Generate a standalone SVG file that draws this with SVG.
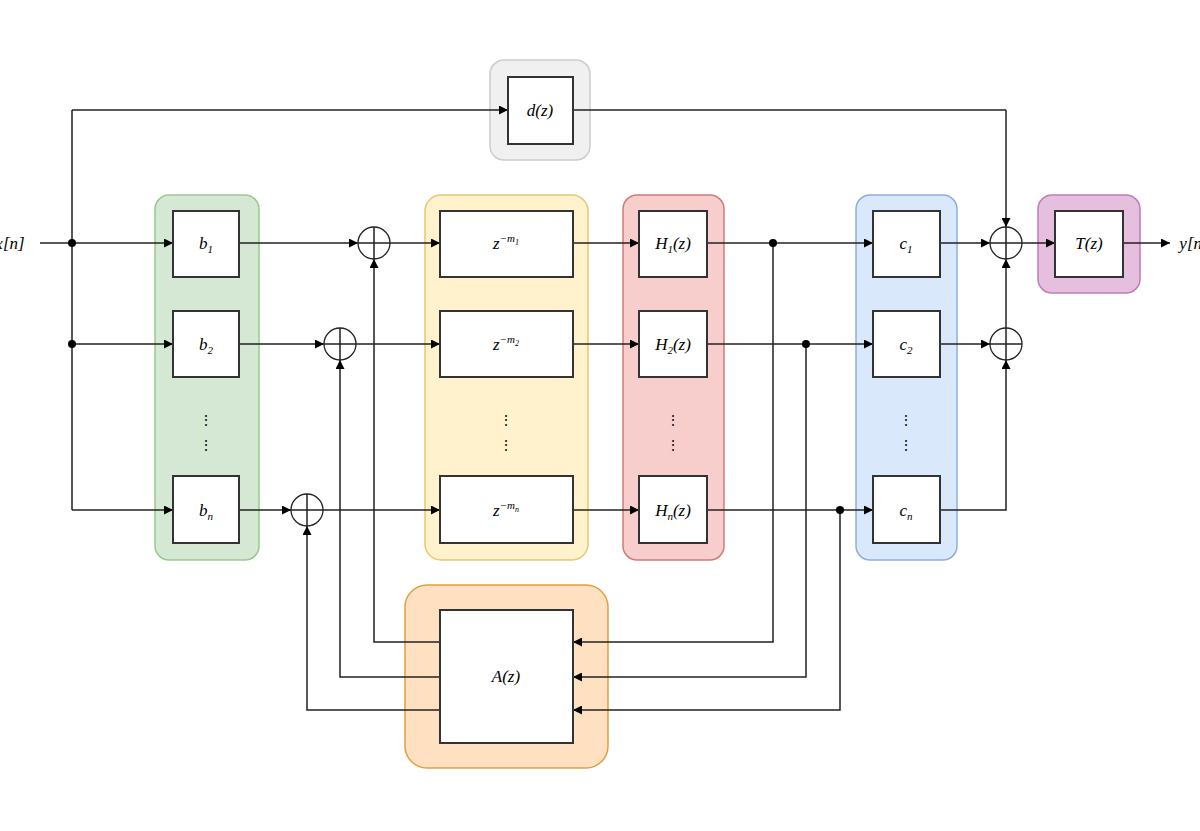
<svg xmlns="http://www.w3.org/2000/svg" width="1200" height="831" viewBox="0 0 1200 831">
<defs>
<marker id="ar" viewBox="0 0 10 10" refX="10" refY="5" markerWidth="9" markerHeight="9" orient="auto" markerUnits="userSpaceOnUse"><path d="M0,0L10,5L0,10z" fill="#000"/></marker>
<style>
.p{stroke-width:1.5}
.box{fill:#fff;stroke:#333;stroke-width:2}
.c{fill:none;stroke:#222;stroke-width:1.5;marker-end:url(#ar)}
.l{fill:none;stroke:#222;stroke-width:1.5}
.t{font-family:"Liberation Serif",serif;font-style:italic;font-size:17px;text-anchor:middle}
.s{font-size:11px}
.ss{font-size:8px}
.sum{fill:#fff;stroke:#222;stroke-width:1.3}
.dot{fill:#000}
.vd{font-family:"Liberation Serif",serif;font-size:14px;text-anchor:middle}
</style>
</defs>
<rect width="1200" height="831" fill="#fff"/>
<g id="panels">
<rect x="490" y="60" width="100" height="100" rx="14" fill="#f0f0f0" stroke="#cccccc" class="p"/>
<rect x="155" y="195" width="104" height="365" rx="14" fill="#d5e8d4" stroke="#9dc78f" class="p"/>
<rect x="425" y="195" width="163" height="365" rx="16" fill="#fff2cc" stroke="#e6c870" class="p"/>
<rect x="623" y="195" width="101" height="365" rx="14" fill="#f8cecc" stroke="#cf7b77" class="p"/>
<rect x="856" y="195" width="101" height="365" rx="14" fill="#dae8fc" stroke="#8eaee0" class="p"/>
<rect x="1038" y="195" width="102" height="98" rx="14" fill="#e6bfdf" stroke="#c07cb6" class="p"/>
<rect x="405" y="585" width="203" height="183" rx="22" fill="#ffe0c0" stroke="#e0a040" class="p"/>
</g>
<g id="connectors">
<path class="l" d="M40,243H72M72,110V510"/>
<path class="c" d="M72,110H508"/>
<path class="l" d="M573,110H1006"/>
<path class="c" d="M1006,110V227"/>
<path class="c" d="M72,243H173"/><path class="c" d="M72,344H173"/><path class="c" d="M72,510H173"/>
<path class="c" d="M239,243H358"/><path class="c" d="M239,344H324"/><path class="c" d="M239,510H291"/>
<path class="c" d="M390,243H440"/><path class="c" d="M356,344H440"/><path class="c" d="M323,510H440"/>
<path class="c" d="M573,243H639"/><path class="c" d="M573,344H639"/><path class="c" d="M573,510H639"/>
<path class="c" d="M707,243H873"/><path class="c" d="M707,344H873"/><path class="c" d="M707,510H873"/>
<path class="c" d="M940,243H990"/><path class="c" d="M940,344H990"/>
<path class="c" d="M940,510H1006V360"/>
<path class="c" d="M1006,328V259"/>
<path class="c" d="M1022,243H1055"/>
<path class="c" d="M1123,243H1170"/>
<path class="c" d="M773,243V642H573"/><path class="c" d="M806,344V677H573"/><path class="c" d="M840,510V710H573"/>
<path class="c" d="M440,642H374V259"/><path class="c" d="M440,677H340V360"/><path class="c" d="M440,710H307V526"/>
<circle class="dot" cx="72" cy="243" r="4"/><circle class="dot" cx="72" cy="344" r="4"/>
<circle class="dot" cx="773" cy="243" r="4"/><circle class="dot" cx="806" cy="344" r="4"/><circle class="dot" cx="840" cy="510" r="4"/>
</g>
<g id="sums">
<g id="s1"><circle class="sum" cx="374" cy="243" r="16"/><path class="l" d="M358,243H390M374,227V259"/></g>
<g id="s2"><circle class="sum" cx="340" cy="344" r="16"/><path class="l" d="M324,344H356M340,328V360"/></g>
<g id="s3"><circle class="sum" cx="307" cy="510" r="16"/><path class="l" d="M291,510H323M307,494V526"/></g>
<g id="s4"><circle class="sum" cx="1006" cy="243" r="16"/><path class="l" d="M990,243H1022M1006,227V259"/></g>
<g id="s5"><circle class="sum" cx="1006" cy="344" r="16"/><path class="l" d="M990,344H1022M1006,328V360"/></g>
</g>
<g id="d"><rect class="box" x="508" y="77" width="65" height="67"/><text class="t" x="540" y="116">d(z)</text></g>
<g id="b1"><rect class="box" x="173" y="211" width="66" height="66"/><text class="t" x="206" y="249">b<tspan class="s" dy="4">1</tspan></text></g>
<g id="b2"><rect class="box" x="173" y="311" width="66" height="66"/><text class="t" x="206" y="350">b<tspan class="s" dy="4">2</tspan></text></g>
<g id="bn"><rect class="box" x="173" y="476" width="66" height="67"/><text class="t" x="206" y="516">b<tspan class="s" dy="4">n</tspan></text></g>
<g id="z1"><rect class="box" x="440" y="211" width="133" height="66"/><text class="t" x="506" y="249">z<tspan class="s" dy="-7">−m</tspan><tspan class="ss" dy="3">1</tspan></text></g>
<g id="z2"><rect class="box" x="440" y="311" width="133" height="66"/><text class="t" x="506" y="350">z<tspan class="s" dy="-7">−m</tspan><tspan class="ss" dy="3">2</tspan></text></g>
<g id="zn"><rect class="box" x="440" y="476" width="133" height="67"/><text class="t" x="506" y="516">z<tspan class="s" dy="-7">−m</tspan><tspan class="ss" dy="3">n</tspan></text></g>
<g id="H1"><rect class="box" x="639" y="211" width="68" height="66"/><text class="t" x="673" y="249">H<tspan class="s" dy="4">1</tspan><tspan dy="-4">(z)</tspan></text></g>
<g id="H2"><rect class="box" x="639" y="311" width="68" height="66"/><text class="t" x="673" y="350">H<tspan class="s" dy="4">2</tspan><tspan dy="-4">(z)</tspan></text></g>
<g id="Hn"><rect class="box" x="639" y="476" width="68" height="67"/><text class="t" x="673" y="516">H<tspan class="s" dy="4">n</tspan><tspan dy="-4">(z)</tspan></text></g>
<g id="c1"><rect class="box" x="873" y="211" width="67" height="66"/><text class="t" x="906" y="249">c<tspan class="s" dy="4">1</tspan></text></g>
<g id="c2"><rect class="box" x="873" y="311" width="67" height="66"/><text class="t" x="906" y="350">c<tspan class="s" dy="4">2</tspan></text></g>
<g id="cn"><rect class="box" x="873" y="476" width="67" height="67"/><text class="t" x="906" y="516">c<tspan class="s" dy="4">n</tspan></text></g>
<g id="T"><rect class="box" x="1055" y="211" width="68" height="66"/><text class="t" x="1089" y="249">T(z)</text></g>
<g id="A"><rect class="box" x="440" y="610" width="133" height="133"/><text class="t" x="506" y="682">A(z)</text></g>
<g id="dots">
<text class="vd" x="206" y="425">⋮</text><text class="vd" x="206" y="450">⋮</text>
<text class="vd" x="506" y="425">⋮</text><text class="vd" x="506" y="450">⋮</text>
<text class="vd" x="673" y="425">⋮</text><text class="vd" x="673" y="450">⋮</text>
<text class="vd" x="906" y="425">⋮</text><text class="vd" x="906" y="450">⋮</text>
</g>
<g id="io">
<text class="t" x="10" y="249">x[n]</text>
<text class="t" x="1194" y="249">y[n]</text>
</g>
</svg>
